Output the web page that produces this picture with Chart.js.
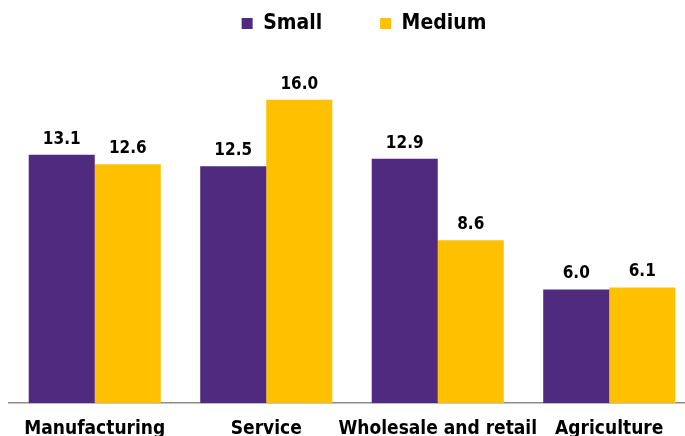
<!DOCTYPE html>
<html>
<head>
<meta charset="utf-8">
<script src="https://cdn.jsdelivr.net/npm/chart.js@4.4.1/dist/chart.umd.min.js"></script>
<style>
  html, body { margin: 0; padding: 0; background: #fff; }
  #wrap { width: 685px; height: 436px; overflow: hidden; position: relative; }
  #chart { position: absolute; left: 0; top: 0; }
</style>
</head>
<body>
<div id="wrap"><canvas id="chart" width="695" height="454"></canvas></div>
<script>
const categories = ['Manufacturing', 'Service', 'Wholesale and retail', 'Agriculture'];
const smallValues = [13.1, 12.5, 12.9, 6.0];
const mediumValues = [12.6, 16.0, 8.6, 6.1];
const seriesNames = ['Small', 'Medium'];

const FONT = '"DejaVu Sans Condensed", "DejaVu Sans", sans-serif';
const PURPLE = '#4f2a7e';
const YELLOW = '#ffc000';

// value labels over each bar
const barValues = {
  id: 'barValues',
  afterDatasetsDraw(chart) {
    const ctx = chart.ctx;
    ctx.save();
    ctx.font = 'bold 17px ' + FONT;
    ctx.fillStyle = '#000';
    ctx.textAlign = 'center';
    ctx.textBaseline = 'bottom';
    chart.data.datasets.forEach((ds, i) => {
      chart.getDatasetMeta(i).data.forEach((bar, j) => {
        ctx.fillText(ds.data[j].toFixed(1), bar.x, bar.y - 7);
      });
    });
    ctx.restore();
  }
};

// nudge the legend a bit right of centre
const legendShift = {
  id: 'legendShift',
  afterLayout(chart) {
    const lg = chart.legend;
    if (!lg) return;
    lg.left += 12;
    lg.right += 12;
    lg.top += 1;
    lg.bottom += 1;
  }
};

new Chart(document.getElementById('chart'), {
  type: 'bar',
  data: {
    labels: categories,
    datasets: [
      { label: seriesNames[0], data: smallValues, backgroundColor: PURPLE },
      { label: seriesNames[1], data: mediumValues, backgroundColor: YELLOW }
    ]
  },
  options: {
    responsive: false,
    animation: false,
    layout: { padding: { left: 9, right: 0, top: -46, bottom: 0 } },
    datasets: { bar: { categoryPercentage: 0.77, barPercentage: 1 } },
    plugins: {
      legend: {
        display: true,
        position: 'top',
        labels: {
          boxWidth: 11, boxHeight: 11, padding: 58,
          color: '#000',
          font: { family: FONT, size: 21, weight: 'bold' }
        }
      },
      tooltip: { enabled: false }
    },
    scales: {
      x: {
        grid: { display: false, drawTicks: false },
        border: { display: true, color: '#8c8c8c', width: 1.5 },
        ticks: { color: '#000', padding: 14, maxRotation: 0, autoSkip: false,
                 font: { family: FONT, size: 19, weight: 'bold' } }
      },
      y: {
        display: false,
        min: 0, max: 19
      }
    }
  },
  plugins: [barValues, legendShift]
});
</script>
</body>
</html>
